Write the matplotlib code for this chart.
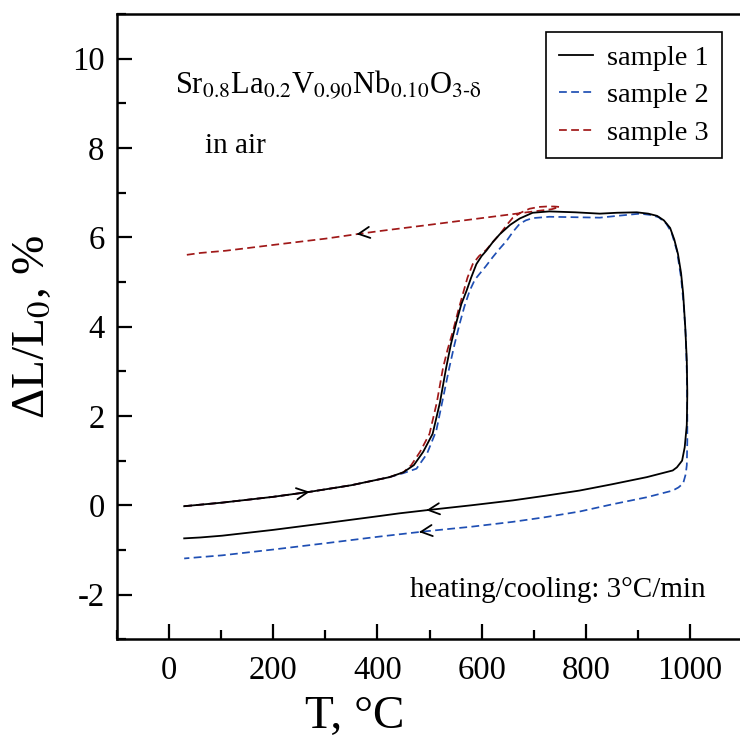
"""
Dilatometry curves for Sr0.8La0.2V0.90Nb0.10O3-d in air (three samples).
"""

import numpy as np
import matplotlib
matplotlib.use("Agg")
import matplotlib.pyplot as plt
from matplotlib.ticker import MultipleLocator

plt.rcParams['font.family'] = ['Liberation Serif', 'DejaVu Serif']
plt.rcParams['mathtext.fontset'] = 'stix'
plt.rcParams['axes.unicode_minus'] = False

# --- data (T in degC, dL/L0 in %) ---
s1_heat_T = [29, 102, 200, 269, 350, 423, 450, 470, 488, 506, 520, 532, 541, 551,
             561, 571, 580, 590, 600, 609, 622, 635, 655, 673, 698, 730, 780, 827,
             860, 898, 920, 937, 950, 962, 970, 977, 983, 987, 991, 994, 995]
s1_heat_dL = [-0.02, 0.06, 0.19, 0.30, 0.45, 0.63, 0.74, 0.90, 1.20, 1.60, 2.30, 3.08, 3.60, 4.07,
              4.50, 4.80, 5.10, 5.40, 5.58, 5.70, 5.90, 6.07, 6.28, 6.42, 6.55, 6.58, 6.56, 6.53,
              6.55, 6.56, 6.53, 6.48, 6.38, 6.21, 5.95, 5.63, 5.20, 4.74, 4.00, 3.24, 2.50]
s1_cool_T = [994, 990, 985, 975, 967, 917, 850, 788, 720, 660, 580, 494, 442, 404,
             300, 200, 102, 60, 29]
s1_cool_dL = [1.80, 1.30, 1.00, 0.85, 0.78, 0.63, 0.47, 0.33, 0.21, 0.11, 0.00, -0.11, -0.18, -0.24,
              -0.40, -0.55, -0.68, -0.72, -0.74]

s2_heat_T = [29, 102, 200, 269, 350, 423, 450, 475, 495, 513, 526, 538, 548, 558,
             567, 577, 587, 596, 608, 621, 635, 648, 660, 673, 685, 698, 730, 780,
             827, 860, 904, 925, 940, 955, 965, 975, 983, 988, 992, 994, 995]
s2_heat_dL = [-0.02, 0.06, 0.19, 0.30, 0.45, 0.63, 0.72, 0.82, 1.15, 1.67, 2.40, 3.08, 3.60, 4.07,
              4.45, 4.80, 5.05, 5.18, 5.35, 5.55, 5.75, 5.92, 6.12, 6.30, 6.38, 6.43, 6.46, 6.45,
              6.44, 6.48, 6.53, 6.50, 6.45, 6.30, 6.10, 5.70, 5.10, 4.50, 3.80, 3.00, 2.00]
s2_cool_T = [995, 994, 992, 987, 978, 967, 917, 850, 788, 720, 660, 580, 494, 404,
             300, 200, 102, 60, 29]
s2_cool_dL = [1.45, 0.90, 0.70, 0.49, 0.40, 0.33, 0.18, 0.02, -0.14, -0.27, -0.37, -0.48, -0.58, -0.70,
              -0.85, -0.99, -1.12, -1.16, -1.19]

s3_heat_T = [29, 102, 200, 269, 350, 423, 450, 465, 482, 500, 514, 526, 535, 545,
             555, 564, 573, 583, 595, 609, 622, 635, 650, 660, 675, 692, 710, 725,
             740, 750]
s3_heat_dL = [-0.02, 0.06, 0.19, 0.30, 0.45, 0.63, 0.74, 0.90, 1.20, 1.60, 2.30, 3.08, 3.50, 3.90,
              4.35, 4.73, 5.10, 5.40, 5.58, 5.72, 5.90, 6.07, 6.30, 6.44, 6.55, 6.64, 6.68, 6.69,
              6.69, 6.68]
s3_cool_T = [735, 700, 667, 600, 500, 404, 360, 300, 200, 109, 60, 29]
s3_cool_dL = [6.63, 6.58, 6.53, 6.43, 6.28, 6.14, 6.07, 5.97, 5.83, 5.70, 5.65, 5.60]

labels = ['sample 1', 'sample 2', 'sample 3']
colors = ['black', '#1f4fb4', '#a01818']

# where the direction arrows sit on each branch
arrows = [
    (0, 'heat', 270),
    (0, 'cool', 494),
    (1, 'cool', 480),
    (2, 'cool', 360),
]

samples = [
    (s1_heat_T, s1_heat_dL, s1_cool_T, s1_cool_dL),
    (s2_heat_T, s2_heat_dL, s2_cool_T, s2_cool_dL),
    (s3_heat_T, s3_heat_dL, s3_cool_T, s3_cool_dL),
]


def branch_value(T_list, dL_list, t):
    T = np.array(T_list, dtype=float)
    dL = np.array(dL_list, dtype=float)
    order = np.argsort(T)
    return np.interp(t, T[order], dL[order])


fig = plt.figure(figsize=(7.4, 7.49), dpi=100)
ax = fig.add_axes([117 / 740, 1 - 639.3 / 749, 625 / 740, 625.3 / 749])

handles = []
zorders = [4, 2, 3]
for i, (hT, hL, cT, cL) in enumerate(samples):
    T = np.concatenate([hT, cT])
    dL = np.concatenate([hL, cL])
    if i == 0:
        line, = ax.plot(T, dL, color=colors[i], lw=1.3, label=labels[i], zorder=zorders[i])
    else:
        line, = ax.plot(T, dL, color=colors[i], lw=1.25, ls=(0, (4.5, 2.5)),
                        label=labels[i], zorder=zorders[i])
    handles.append(line)

for i, branch, t in arrows:
    hT, hL, cT, cL = samples[i]
    if branch == 'heat':
        y_tip = branch_value(hT, hL, t)
        tail = (t - 4, branch_value(hT, hL, t - 4))
    else:
        y_tip = branch_value(cT, cL, t)
        tail = (t + 4, branch_value(cT, cL, t + 4))
    ax.annotate('', xy=(t, y_tip), xytext=tail,
                arrowprops=dict(arrowstyle='->,head_length=0.8,head_width=0.4',
                                color='black', lw=1.3, shrinkA=0, shrinkB=0),
                zorder=5)

ax.set_xlim(-100, 1100)
ax.set_ylim(-3, 11)
ax.xaxis.set_major_locator(MultipleLocator(200))
ax.xaxis.set_minor_locator(MultipleLocator(100))
ax.yaxis.set_major_locator(MultipleLocator(2))
ax.yaxis.set_minor_locator(MultipleLocator(1))

ax.spines['right'].set_visible(False)
for s in ['left', 'top', 'bottom']:
    ax.spines[s].set_linewidth(1.8)

ax.tick_params(which='both', direction='in', top=False, right=False, width=1.6)
ax.tick_params(which='major', length=11, labelsize=23.5)
ax.tick_params(axis='x', which='major', pad=12)
ax.tick_params(axis='y', which='major', pad=9)
ax.tick_params(which='minor', length=6.5)

ax.set_xlabel('T, °C', fontsize=34)
ax.set_ylabel('ΔL/L$_0$, %', fontsize=34)
ax.xaxis.set_label_coords(0.381, -0.09)
ax.yaxis.set_label_coords(-0.10, 0.5)

ax.text(0.093, 0.874, r'Sr$_{0.8}$La$_{0.2}$V$_{0.90}$Nb$_{0.10}$O$_{3\text{-δ}}$',
        transform=ax.transAxes, fontsize=22, va='baseline')
ax.text(0.141, 0.778, 'in air', transform=ax.transAxes, fontsize=21, va='baseline')
ax.text(0.469, 0.068, 'heating/cooling: 3°C/min', transform=ax.transAxes,
        fontsize=21, va='baseline')

leg = ax.legend(handles=handles, loc='upper right', bbox_to_anchor=(0.968, 0.971),
                borderaxespad=0, fontsize=20.5, frameon=True, fancybox=False,
                framealpha=1, edgecolor='black', handlelength=1.2,
                handletextpad=0.5, labelspacing=0.4, borderpad=0.45)
leg.get_frame().set_linewidth(1.2)

fig.savefig('out.png', dpi=100)
